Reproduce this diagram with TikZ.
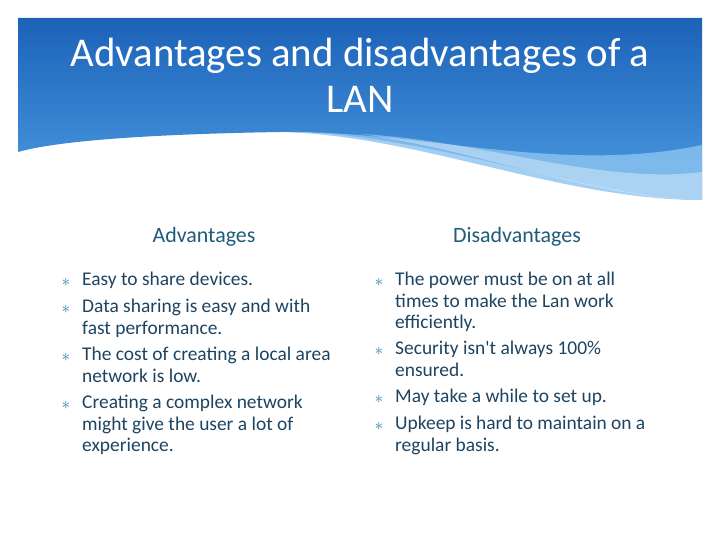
\documentclass[tikz,border=0pt]{standalone}
\usepackage{fontspec}
\setmainfont{Carlito}
\definecolor{topblue}{HTML}{1C62B8}
\definecolor{lowblue}{HTML}{4C9CE2}
\definecolor{wave}{HTML}{8CC4F0}
\definecolor{head}{HTML}{1F5C7A}
\definecolor{body}{HTML}{1D4461}
\definecolor{star}{HTML}{2A8AB0}
\begin{document}
\begin{tikzpicture}[x=1bp,y=-1bp]
\tikzset{titel/.style={text=white, font=\fontsize{41}{46}\selectfont, align=center},
  kop/.style={text=head, font=\fontsize{22}{24}\selectfont},
  punt/.style={text=star, font=\fontsize{17}{18}\selectfont, anchor=north, inner sep=0pt},
  item/.style={text=body, font=\fontsize{19.5}{21.5}\selectfont, anchor=north west, inner sep=0pt, text width=250bp, align=flush left}};
\useasboundingbox (0,0) rectangle (720,540);
\fill[white] (0,0) rectangle (720,540);
% header
\shade[top color=topblue, bottom color=lowblue] (18,18) -- (702,18) -- (702,200)
  .. controls (600,200) and (420,130) .. (280,132) .. controls (160,134) and (60,140) .. (18,152) -- cycle;
\fill[wave, opacity=0.8] (702,145) .. controls (560,175) and (420,130) .. (280,132)
  .. controls (420,135) and (560,200) .. (702,200) -- cycle;
\fill[white, opacity=0.35] (702,172) .. controls (600,185) and (480,140) .. (360,134)
  .. controls (480,150) and (600,200) .. (702,200) -- cycle;
\node[titel] (t) at (360,75) {Advantages and disadvantages of a\\LAN};
% columns
\node[kop] (ka) at (204,237) {Advantages};
\node[kop] (kd) at (517,237) {Disadvantages};
\node[punt] (b1) at (66,278) {$\ast$}; \node[item] (a1) at (82,272) {Easy to share devices.};
\node[punt] (b2) at (66,305) {$\ast$}; \node[item] (a2) at (82,299) {Data sharing is easy and with fast performance.};
\node[punt] (b3) at (66,353) {$\ast$}; \node[item] (a3) at (82,347) {The cost of creating a local area network is low.};
\node[punt] (b4) at (66,401) {$\ast$}; \node[item] (a4) at (82,395) {Creating a complex network might give the user a lot of experience.};
\node[punt] (c1) at (379,278) {$\ast$}; \node[item] (d1) at (395,272) {The power must be on at all times to make the Lan work efficiently.};
\node[punt] (c2) at (379,347) {$\ast$}; \node[item] (d2) at (395,341) {Security isn\textquotesingle t always 100\% ensured.};
\node[punt] (c3) at (379,395) {$\ast$}; \node[item] (d3) at (395,389) {May take a while to set up.};
\node[punt] (c4) at (379,422) {$\ast$}; \node[item] (d4) at (395,416) {Upkeep is hard to maintain on a regular basis.};
\end{tikzpicture}
\end{document}
